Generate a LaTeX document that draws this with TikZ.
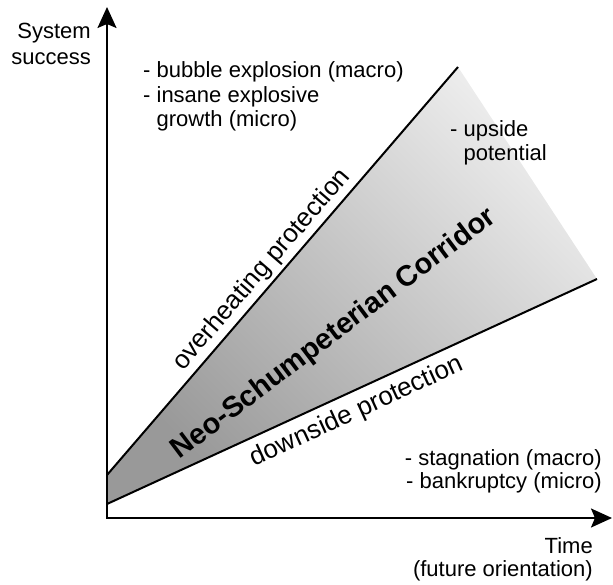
\documentclass[tikz,border=0pt]{standalone}
\usepackage{fontspec}
\setmainfont{Liberation Sans}
\usetikzlibrary{arrows.meta}
\begin{document}
\begin{tikzpicture}[x=1pt,y=-1pt,
  axis/.style={line width=2.2pt, {Stealth[length=21pt,width=19pt,inset=4pt]}-{Stealth[length=21pt,width=19pt,inset=4pt]}},
  bound/.style={line width=2pt},
  txt/.style={inner sep=0pt, font=\fontsize{22}{24.5}\selectfont},
  rtxt/.style={inner sep=0pt, font=\fontsize{26}{30}\selectfont},
  ttl/.style={inner sep=0pt, font=\fontsize{29}{34}\selectfont\bfseries}]
\useasboundingbox (0,0) rectangle (613,585);
\coordinate (O) at (107,518);
\coordinate (Ytip) at (107,7);
\coordinate (Xtip) at (612,518);
\coordinate (U0) at (107,475);
\coordinate (U1) at (458,67);
\coordinate (L0) at (107,504);
\coordinate (L1) at (597,279);
% corridor
\shade[top color=black!7, bottom color=black!40, shading angle=-45] (U0) -- (U1) -- (L1) -- (L0) -- cycle;
\draw[bound] (U0) -- (U1);
\draw[bound] (L0) -- (L1);
% axes
\draw[axis] (Ytip) -- (O) -- (Xtip);
% labels (base anchor = baseline of the last line)
\node[txt, anchor=base east, align=right] (ylab) at (91,65) {System\\[1.5pt]success};
\node[txt, anchor=base west, align=left] (bub) at (143,127) {- bubble explosion (macro)\\- insane explosive\\\hphantom{- }growth (micro)};
\node[txt, anchor=base west, align=left] (up) at (450,161) {- upside\\\hphantom{- }potential};
\node[txt, anchor=base east, align=right] (stag) at (602,488) {- stagnation (macro)\\[-1.5pt]- bankruptcy (micro)};
\node[txt, anchor=base east, align=right] (time) at (593,576) {Time\\[-1.5pt](future orientation)};
\node[rtxt, rotate=49.2] (oh) at (262,270) {overheating protection};
\node[rtxt, rotate=24.65] (ds) at (357,412) {downside protection};
\node[ttl, rotate=37] (neo) at (334,334) {Neo-Schumpeterian Corridor};
\end{tikzpicture}
\end{document}
